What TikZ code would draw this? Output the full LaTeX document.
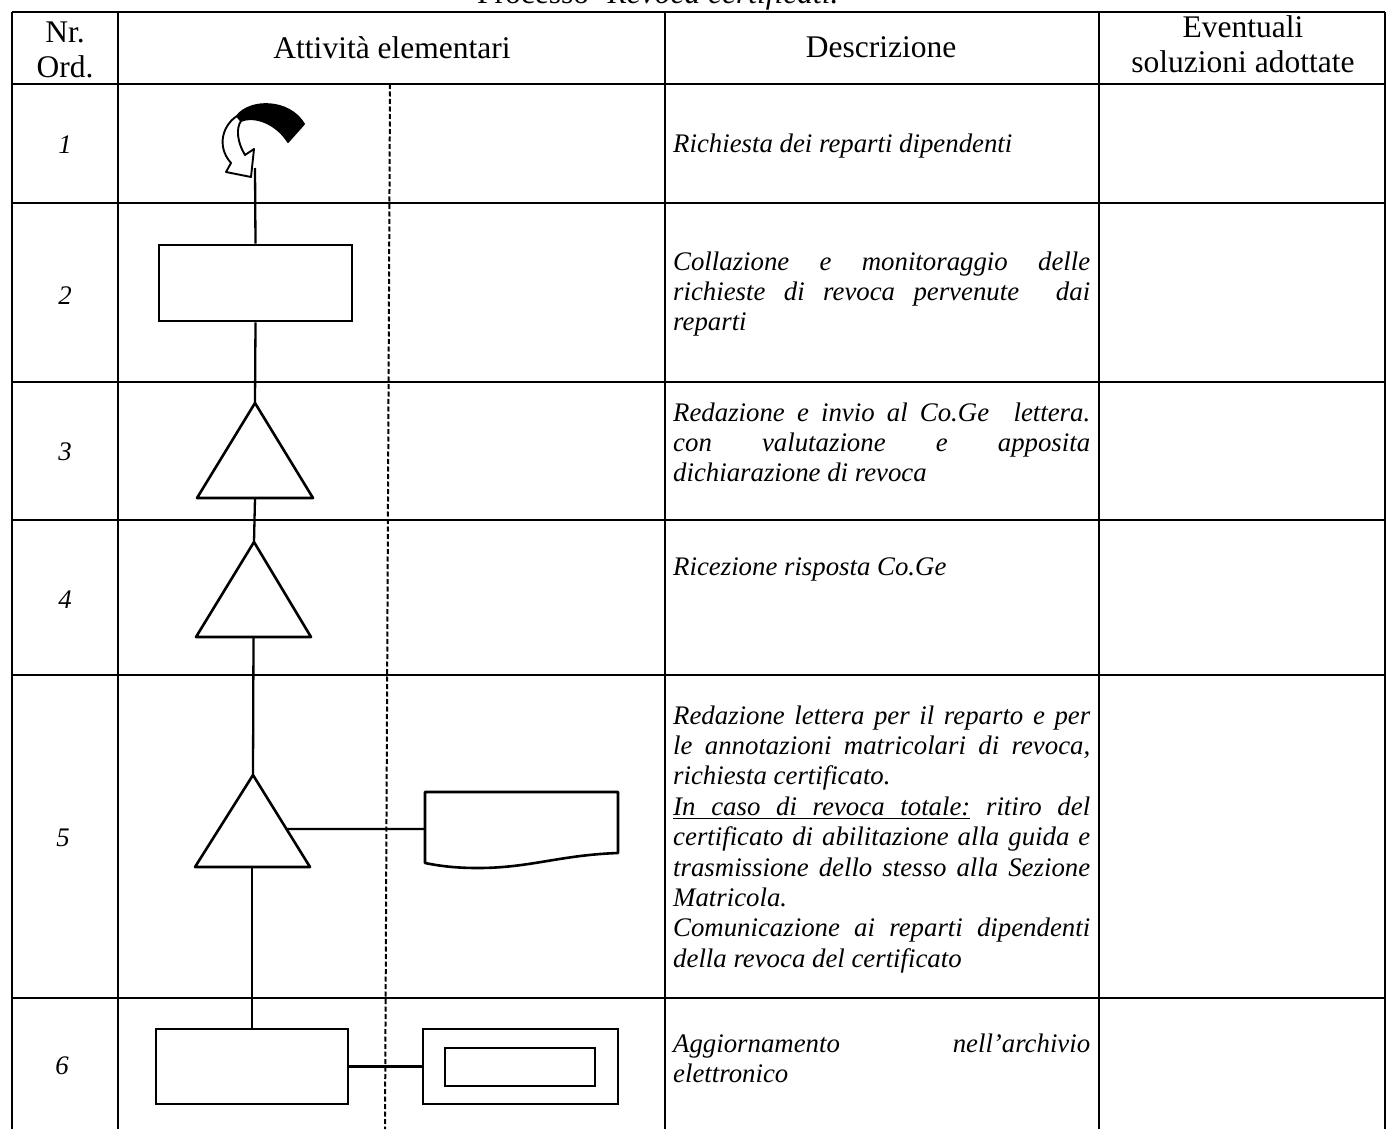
\documentclass[tikz,border=0pt]{standalone}
\usepackage{fontspec}
\setmainfont{Liberation Serif}
\usetikzlibrary{calc}
\newcommand{\hdrfont}{\fontsize{31.5}{35}\selectfont}
\newcommand{\dscfont}{\fontsize{26.8}{30.4}\selectfont\itshape\spaceskip=0pt\xspaceskip=0pt\relax}
\newcommand{\jl}[1]{\makebox[417pt][s]{\strut#1}\\}
\newcommand{\leftl}[1]{\makebox[417pt][l]{\strut#1}\\}
\newcommand{\lastl}[1]{\makebox[417pt][l]{\strut#1}}
\newcommand{\ulw}[1]{\setbox0\hbox{#1}\rlap{\rule[-4pt]{\wd0}{1.3pt}}\box0\relax}
\newcommand{\ulsp}{\leaders\hrule height -2.7pt depth 4pt\hskip\fontdimen2\font plus \fontdimen3\font minus \fontdimen4\font\relax}
\begin{document}
\begin{tikzpicture}[x=1pt,y=1pt,
  grid/.style={line width=2.2pt},
  shapeline/.style={line width=2.6pt,line join=round},
  conn/.style={line width=2.3pt},
  box/.style={draw,line width=2.6pt,inner sep=0pt},
  hdr/.style={font=\hdrfont,align=center,inner sep=0pt},
  num/.style={font=\dscfont,inner sep=0pt},
  dsc/.style={text width=417pt,align=justify,font=\dscfont,inner sep=0pt,anchor=north west},
  dashline/.style={line width=2pt,dash pattern=on 5pt off 2.5pt}]
\useasboundingbox (0,0) rectangle (1388,-1129);
\fill[white] (0,0) rectangle (1388,-1129);

% title (cut at the top of the page)
\node[font=\hdrfont,anchor=base west,inner sep=0pt] (title) at (477,-4) {Processo -\textit{Revoca certificati.}};

% table grid
\draw[grid] (12,-12) -- (1385,-12);
\foreach \yy in {84,203,382,520,675,998}{\draw[grid] (12,-\yy) -- (1385,-\yy);}
\foreach \xx in {12,118,665,1099,1385}{\draw[grid,line width=2.6pt] (\xx,-12) -- (\xx,-1129);}
\draw[dashline] (390,-84) -- (385,-1129);

% header
\node[hdr] (hnr) at (65,-50) {Nr.\\Ord.};
\node[hdr] (hatt) at (392,-48) {Attività elementari};
\node[hdr] (hdes) at (881,-47) {Descrizione};
\node[hdr] (hev) at (1243,-44) {Eventuali\\soluzioni adottate};

% row numbers
\node[num] (n1) at (65,-145) {1};
\node[num] (n2) at (65,-296) {2};
\node[num] (n3) at (65,-452) {3};
\node[num] (n4) at (65,-600) {4};
\node[num] (n5) at (63,-838) {5};
\node[num] (n6) at (62,-1066) {6};

% descriptions
\node[dsc] (d1) at (673,-130.7) {\noindent\lastl{Richiesta dei reparti dipendenti}};
\node[dsc] (d2) at (673,-248.7) {\noindent\jl{Collazione e monitoraggio delle}\jl{richieste di revoca pervenute\ \ dai}\lastl{reparti}};
\node[dsc] (d3) at (673,-399.7) {\noindent\jl{Redazione e invio al Co.Ge\ \ lettera.}\jl{con valutazione e apposita}\lastl{dichiarazione di revoca}};
\node[dsc] (d4) at (673,-553.7) {\noindent\lastl{Ricezione risposta Co.Ge}};
\node[dsc] (d5) at (673,-702.7) {\noindent\jl{Redazione lettera per il reparto e per}\jl{le annotazioni matricolari di revoca,}\leftl{richiesta certificato.}\jl{\ulw{In}\ulsp\ulw{caso}\ulsp\ulw{di}\ulsp\ulw{revoca}\ulsp\ulw{totale:} ritiro del}\jl{certificato di abilitazione alla guida e}\jl{trasmissione dello stesso alla Sezione}\leftl{Matricola.}\jl{Comunicazione ai reparti dipendenti}\lastl{della revoca del certificato}};
\node[dsc] (d6) at (673,-1030.7) {\noindent\jl{Aggiornamento nell’archivio}\lastl{elettronico}};

% row 1: curved arrow icon
\fill[black] (237,-116) .. controls (250,-99) and (289,-99) .. (304,-124)
  -- (288,-142) .. controls (277,-124) and (255,-115) .. (241,-121) -- cycle;
\draw[line width=1.9pt,line join=round,fill=white] (237,-116) .. controls (223,-125) and (216,-146) .. (231,-163)
  -- (226,-172) -- (251,-177) -- (254,-149) -- (245,-155)
  .. controls (237,-142) and (236,-128) .. (241,-121) -- cycle;
\draw[line width=1.9pt,line join=round] (237,-116) .. controls (250,-99) and (289,-99) .. (304,-124)
  -- (288,-142) .. controls (277,-124) and (255,-115) .. (241,-121);
\coordinate (arr) at (255,-168);

% row 2
\node[box,minimum width=193pt,minimum height=76pt] (r2) at (255.5,-283) {};

% row 3 triangle
\coordinate (t3a) at (255,-403);
\coordinate (t3l) at (197,-498);
\coordinate (t3r) at (313,-498);
\coordinate (t3b) at (255,-498);
\draw[shapeline] (t3a) -- (t3r) -- (t3l) -- cycle;

% row 4 triangle
\coordinate (t4a) at (254,-542);
\coordinate (t4l) at (196,-637);
\coordinate (t4r) at (311,-637);
\coordinate (t4b) at (253.5,-637);
\draw[shapeline] (t4a) -- (t4r) -- (t4l) -- cycle;

% row 5 triangle and document
\coordinate (t5a) at (253,-775);
\coordinate (t5l) at (195,-867);
\coordinate (t5r) at (310,-867);
\coordinate (t5b) at (252,-867);
\draw[shapeline] (t5a) -- (t5r) -- (t5l) -- cycle;
\coordinate (t5e) at ($(t5a)!0.587!(t5r)$);
\coordinate (docw) at (425,-829);
\draw[shapeline] (425,-792) -- (618,-792) -- (618,-853)
  .. controls (560,-855) and (530,-868) .. (478,-868)
  .. controls (455,-868) and (440,-866) .. (425,-863) -- cycle;

% row 6
\node[box,minimum width=192pt,minimum height=75pt] (r6) at (252,-1066.5) {};
\node[box,minimum width=195pt,minimum height=75pt] (o6) at (520.5,-1066.5) {};
\node[box,minimum width=150pt,minimum height=38pt] (i6) at (520,-1067) {};

% connectors
\draw[conn] (arr) -- (r2.north);
\draw[conn] (r2.south) -- (t3a);
\draw[conn] (t3b) -- (t4a);
\draw[conn] (t4b) -- (t5a);
\draw[conn] (t5b) -- (r6.north);
\draw[conn] (t5e) -- (docw);
\draw[conn] (r6.east) -- (o6.west);
\end{tikzpicture}
\end{document}
